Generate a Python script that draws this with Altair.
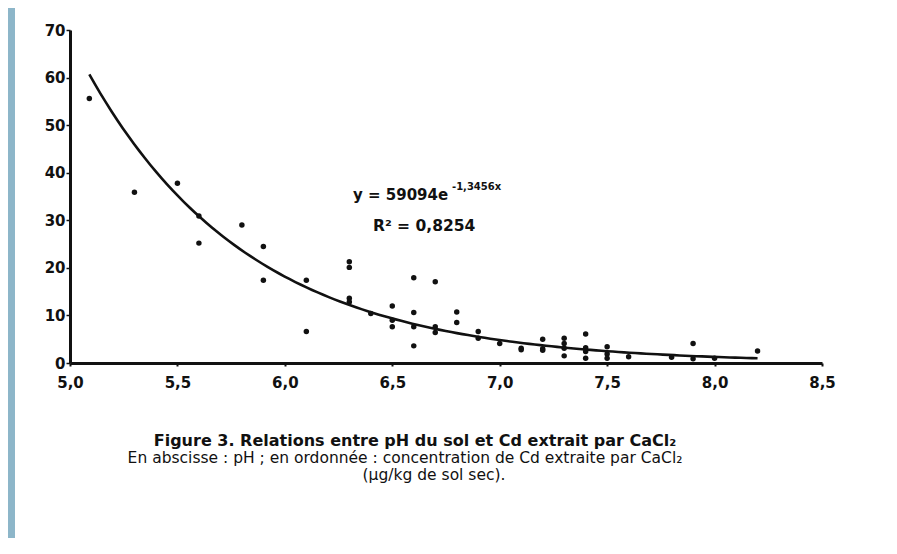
import altair as alt
import pandas as pd

# Soil pH (x) and Cd extracted by CaCl2 (y, µg/kg dry soil)
ph = [5.09, 5.3, 5.5, 5.6, 5.6, 5.8, 5.9, 5.9,
      6.1, 6.1, 6.3, 6.3, 6.3, 6.3, 6.4, 6.5, 6.5, 6.5,
      6.6, 6.6, 6.6, 6.6, 6.7, 6.7, 6.7, 6.8, 6.8, 6.9, 6.9,
      7.0, 7.1, 7.1, 7.2, 7.2, 7.2, 7.3, 7.3, 7.3, 7.3,
      7.4, 7.4, 7.4, 7.4, 7.5, 7.5, 7.5, 7.6, 7.8, 7.9, 7.9, 8.0, 8.2]
cd = [55.6, 35.9, 37.8, 30.9, 25.2, 29.0, 24.5, 17.4,
      17.4, 6.6, 21.3, 20.1, 13.6, 12.8, 10.4, 12.0, 9.0, 7.6,
      17.9, 10.6, 7.6, 3.6, 17.1, 7.6, 6.4, 10.7, 8.5, 6.6, 5.2,
      4.1, 3.1, 2.8, 5.0, 3.0, 2.7, 5.2, 4.1, 3.1, 1.5,
      6.1, 3.2, 2.4, 1.0, 3.4, 1.9, 1.0, 1.3, 1.2, 4.1, 0.9, 1.0, 2.5]

x_ticks = [5.0, 5.5, 6.0, 6.5, 7.0, 7.5, 8.0, 8.5]
y_ticks = [0, 10, 20, 30, 40, 50, 60, 70]

eq_main = "y = 59094e"
eq_exp = "-1,3456x"
r2_text = "R² = 0,8254"
caption = [
    "Figure 3. Relations entre pH du sol et Cd extrait par CaCl₂",
    "En abscisse : pH ; en ordonnée : concentration de Cd extraite par CaCl₂",
    "(µg/kg de sol sec).",
]

df = pd.DataFrame({"pH": ph, "Cd": cd})

FONT = "DejaVu Sans"
INK = "#111111"

x_scale = alt.Scale(domain=[5.0, 8.5], nice=False, zero=False)
y_scale = alt.Scale(domain=[0, 70], nice=False, zero=True)

x_axis = alt.Axis(
    values=x_ticks, title=None, grid=False, labelFlush=False,
    labelExpr="replace(format(datum.value, '.1f'), '.', ',')",
    domainWidth=3, domainColor=INK, tickColor=INK, tickSize=3, tickWidth=2,
    labelFont=FONT, labelFontSize=15, labelColor=INK, labelPadding=9,
    labelFontWeight="bold",
)
y_axis = alt.Axis(
    values=y_ticks, title=None, grid=False, format="d", labelFlush=False,
    domainWidth=3, domainColor=INK, tickColor=INK, tickSize=4, tickWidth=1.5,
    labelFont=FONT, labelFontSize=15, labelColor=INK, labelPadding=1,
    labelFontWeight="bold",
)

base = alt.Chart(df)

points = base.mark_point(filled=True, shape="circle", size=30, color=INK, opacity=1).encode(
    x=alt.X("pH:Q", scale=x_scale, axis=x_axis),
    y=alt.Y("Cd:Q", scale=y_scale, axis=y_axis),
)

# Least-squares fit of ln(Cd) on pH (exponential trendline), sampled between min and max pH
fit = (
    base.transform_calculate(lnCd="log(datum.Cd)")
    .transform_calculate(xx="datum.pH * datum.pH")
    .transform_calculate(xl="datum.pH * datum.lnCd")
    .transform_joinaggregate(
        mx="mean(pH)", my="mean(lnCd)", mxx="mean(xx)", mxl="mean(xl)",
        xmin="min(pH)", xmax="max(pH)",
    )
    .transform_calculate(b="(datum.mxl - datum.mx * datum.my) / (datum.mxx - datum.mx * datum.mx)")
    .transform_calculate(a="datum.my - datum.b * datum.mx")
    .transform_window(rn="row_number()")
    .transform_filter("datum.rn == 1")
    .transform_calculate(k="sequence(0, 121)")
    .transform_flatten(["k"])
    .transform_calculate(fx="datum.xmin + datum.k * (datum.xmax - datum.xmin) / 120")
    .transform_calculate(fy="exp(datum.a + datum.b * datum.fx)")
    .mark_line(color=INK, strokeWidth=2.6)
    .encode(
        x=alt.X("fx:Q", scale=x_scale, axis=x_axis),
        y=alt.Y("fy:Q", scale=y_scale, axis=y_axis),
        order="k:Q",
    )
)

eq1 = alt.Chart().mark_text(
    text=eq_main, align="left", baseline="middle", font=FONT, fontSize=15,
    fontWeight="bold", color=INK
).encode(x=alt.value(283), y=alt.value(165))
eq2 = alt.Chart().mark_text(
    text=eq_exp, align="left", baseline="middle", font=FONT, fontSize=10,
    fontWeight="bold", color=INK
).encode(x=alt.value(382), y=alt.value(157))
r2 = alt.Chart().mark_text(
    text=r2_text, align="left", baseline="middle", font=FONT, fontSize=15.5,
    fontWeight="bold", color=INK
).encode(x=alt.value(303), y=alt.value(196))

cap1 = alt.Chart().mark_text(
    text=caption[0], align="center", baseline="middle", font=FONT, fontSize=16,
    fontWeight="bold", color=INK
).encode(x=alt.value(345), y=alt.value(411))
cap2 = alt.Chart().mark_text(
    text=caption[1], align="center", baseline="middle", font=FONT, fontSize=15.5, color=INK
).encode(x=alt.value(335), y=alt.value(428))
cap3 = alt.Chart().mark_text(
    text=caption[2], align="center", baseline="middle", font=FONT, fontSize=15.5, color=INK
).encode(x=alt.value(364), y=alt.value(445))

edge = alt.Chart().mark_rect(color="#8db6c9").encode(
    x=alt.value(-62), x2=alt.value(-55), y=alt.value(-22), y2=alt.value(530)
)

chart = alt.layer(edge, points, fit, eq1, eq2, r2, cap1, cap2, cap3).properties(
    width=752, height=333,
    autosize=alt.AutoSizeParams(type="none"),
    padding={"left": 62, "top": 22, "right": 60, "bottom": 175},
    background="white",
).configure_view(stroke=None)

chart.save("out.html", embed_options={"renderer": "svg", "actions": False})
